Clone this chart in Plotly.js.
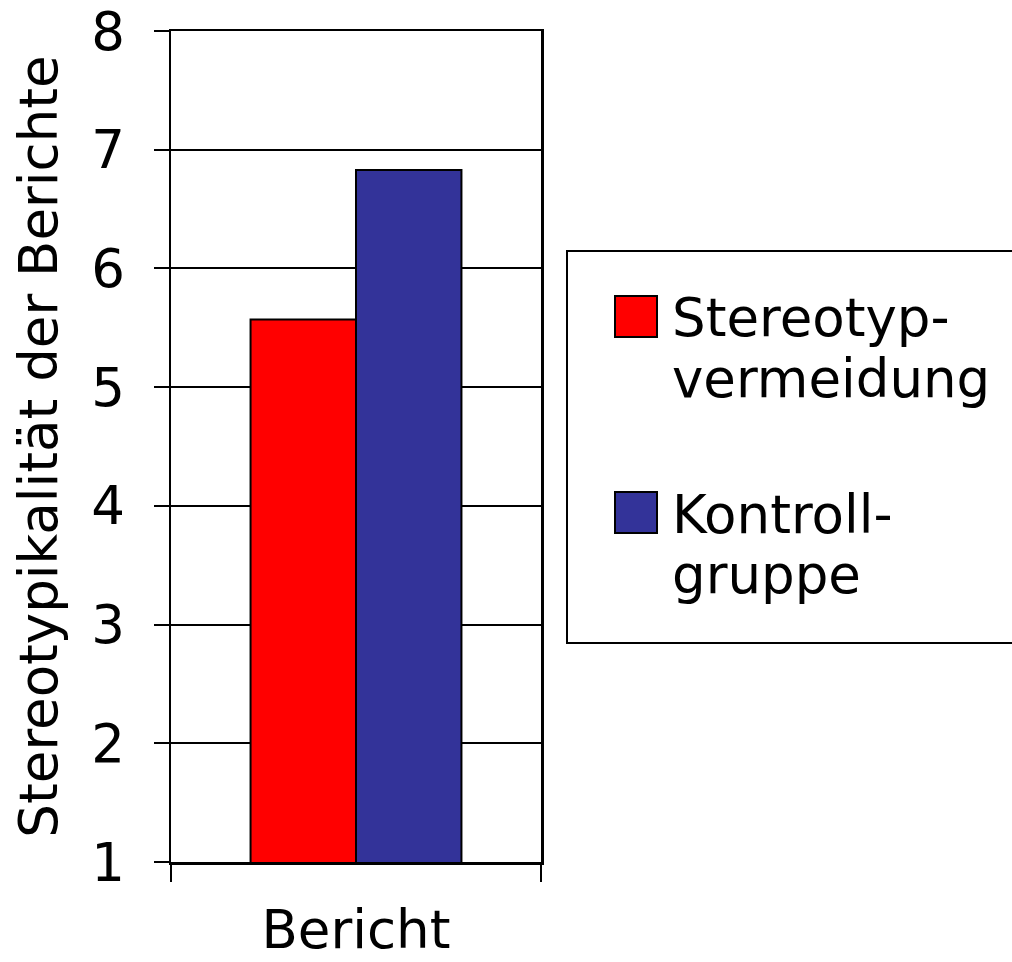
<!DOCTYPE html>
<html>
<head>
<meta charset="utf-8">
<script src="https://cdn.plot.ly/plotly-3.0.1.min.js"></script>
<style>html,body{margin:0;padding:0;background:#fff;}#chart{width:1012px;height:962px;}</style>
</head>
<body>
<div id="chart"></div>
<script>
const categories = ["Bericht"];
const seriesNames = ["Stereotyp-vermeidung", "Kontroll-gruppe"];
const legendLines = [["Stereotyp-", "vermeidung"], ["Kontroll-", "gruppe"]];
const stereotypvermeidung = [5.57];
const kontrollgruppe = [6.83];
const seriesColors = ["#FF0000", "#333399"];
const yTicks = [1, 2, 3, 4, 5, 6, 7, 8];
const yTitle = "Stereotypikalität der Berichte";

const FONT = "DejaVu Sans, Verdana, sans-serif";
const FS = 53;
const W = 1012, H = 962;
const L = 171, R = 541, T = 31, B = 862;
const px = x => (x - L) / (R - L);
const py = y => (B - y) / (B - T);

const traces = [stereotypvermeidung, kontrollgruppe].map((vals, i) => ({
  type: "bar",
  x: categories,
  y: vals,
  name: seriesNames[i],
  marker: { color: seriesColors[i], line: { color: "#000", width: 2 } },
  hoverinfo: "x+y+name"
}));

const shapes = [
  { type: "rect", xref: "paper", yref: "paper", x0: px(567), x1: px(1040), y0: py(643), y1: py(251),
    line: { color: "#000", width: 2 }, fillcolor: "rgba(0,0,0,0)" }
];
const annotations = [];
const sqTops = [296, 492];
legendLines.forEach((lines, i) => {
  const top = sqTops[i];
  shapes.push({ type: "rect", xref: "paper", yref: "paper", x0: px(615), x1: px(657), y0: py(top + 41), y1: py(top),
    line: { color: "#000", width: 2 }, fillcolor: seriesColors[i] });
  lines.forEach((t, j) => {
    const baseline = top + 41 + j * 60;
    annotations.push({ xref: "paper", yref: "paper", x: px(670), y: py(baseline - 19), xanchor: "left", yanchor: "middle",
      text: t, showarrow: false, font: { family: FONT, size: FS, color: "#000" } });
  });
});

const layout = {
  width: W, height: H,
  margin: { l: L, r: W - R, t: T, b: H - B, pad: 0 },
  paper_bgcolor: "#fff", plot_bgcolor: "#fff",
  showlegend: false,
  barmode: "group",
  bargap: 0.43,
  bargroupgap: 0,
  font: { family: FONT, size: FS, color: "#000" },
  xaxis: {
    type: "category",
    showline: true, linecolor: "#000", linewidth: 2.5, mirror: true,
    ticks: "outside", ticklen: 17, tickwidth: 2, tickcolor: "#000",
    tickson: "boundaries",
    ticklabelstandoff: 20,
    tickfont: { family: FONT, size: FS, color: "#000" },
    showgrid: false, zeroline: false
  },
  yaxis: {
    range: [1, 8],
    tickvals: yTicks,
    ticktext: yTicks.map(String),
    showline: true, linecolor: "#000", linewidth: 2.5, mirror: true,
    ticks: "outside", ticklen: 15, tickwidth: 2, tickcolor: "#000",
    ticklabelstandoff: 18,
    showgrid: true, gridcolor: "#000", gridwidth: 2,
    zeroline: false,
    tickfont: { family: FONT, size: FS, color: "#000" },
    title: { text: yTitle, font: { family: FONT, size: FS, color: "#000" }, standoff: 17 }
  },
  shapes: shapes,
  annotations: annotations
};

Plotly.newPlot("chart", traces, layout, { displayModeBar: false, staticPlot: true });
</script>
</body>
</html>
